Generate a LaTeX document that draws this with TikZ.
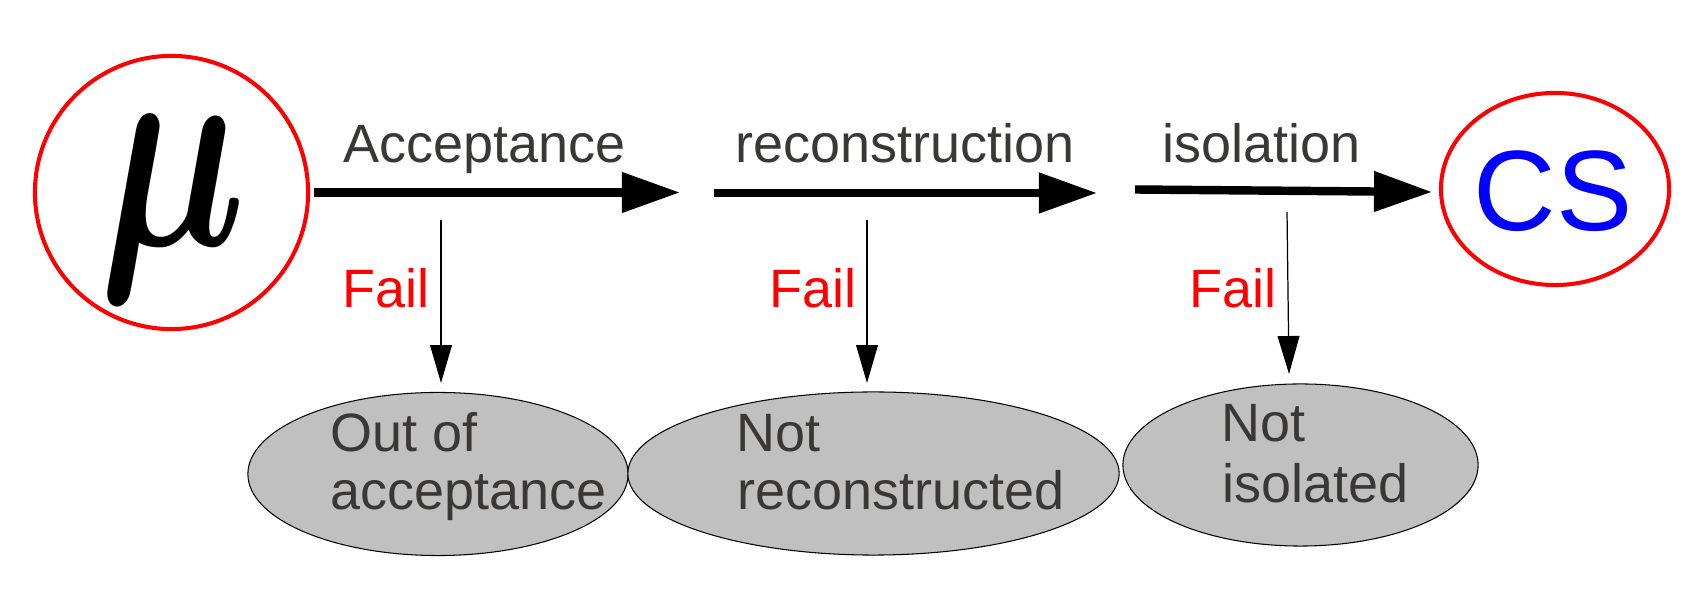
\documentclass[tikz,border=0pt]{standalone}
\usepackage{fontspec}
\setmainfont{Liberation Sans}
\usetikzlibrary{arrows.meta,shapes.geometric}
\definecolor{txtgray}{RGB}{58,56,54}
\definecolor{ellfill}{RGB}{192,192,192}
\begin{document}
\begin{tikzpicture}[x=0.01cm,y=-0.01cm,
  lbl/.style={font=\fontsize{15.35pt}{16pt}\selectfont, text=txtgray, inner sep=0pt},
  faillbl/.style={lbl, text=red},
  ring/.style={ellipse, draw=red, line width=1.15pt, inner sep=0pt},
  oval/.style={ellipse, draw=black, line width=0.3pt, fill=ellfill, inner sep=0pt},
  mainarrow/.style={line width=2.4pt, -{Triangle[length=16.5pt,width=11pt]}},
  failarrow/.style={line width=0.35pt, -{Triangle[length=10.8pt,width=6.2pt]}}
]
\useasboundingbox (0,0) rectangle (1704,592);

% end nodes
\node[ring, minimum width=2.73cm, minimum height=2.73cm] (mu) at (171.5,192.5) {};
\node[inner sep=0pt] (mulbl) at (172.5,209) {\scalebox{5.9}[8.3]{\boldmath$\mu$}};
\node[ring, minimum width=2.28cm, minimum height=1.92cm] (cs) at (1555,189) {};
\node[inner sep=0pt, text=blue, font=\fontsize{32.5pt}{33pt}\selectfont] (cslbl) at (1553,191) {CS};

% failure ovals
\node[oval, minimum width=3.80cm, minimum height=1.63cm] (e1) at (438,474) {};
\node[oval, minimum width=4.91cm, minimum height=1.63cm] (e2) at (873.5,473.5) {};
\node[oval, minimum width=3.55cm, minimum height=1.62cm] (e3) at (1300.5,465) {};

\node[lbl, anchor=base west] (e1a) at (329.5,452) {Out of};
\node[lbl, anchor=base west] (e1b) at (330,510) {acceptance};
\node[lbl, anchor=base west] (e2a) at (736,452) {Not};
\node[lbl, anchor=base west] (e2b) at (736.5,510) {reconstructed};
\node[lbl, anchor=base west] (e3a) at (1221,442) {Not};
\node[lbl, anchor=base west] (e3b) at (1221.5,503) {isolated};

% step labels
\node[lbl, anchor=base] (l1) at (484.5,163) {Acceptance};
\node[lbl, anchor=base] (l2) at (905,163) {reconstruction};
\node[lbl, anchor=base] (l3) at (1261.5,163) {isolation};

\node[faillbl, anchor=base west] (f1) at (342,308) {Fail};
\node[faillbl, anchor=base west] (f2) at (769,308) {Fail};
\node[faillbl, anchor=base west] (f3) at (1189,308) {Fail};

% connector end points
\coordinate (a1s) at (314,192.5);
\coordinate (a1e) at (680,192.5);
\coordinate (a2s) at (714,193);
\coordinate (a2e) at (1097,193);
\coordinate (a3s) at (1135,189.5);
\coordinate (a3e) at (1432,192);
\coordinate (d1s) at (441,220);
\coordinate (d1e) at (441,383);
\coordinate (d2s) at (867,220);
\coordinate (d2e) at (867,383);
\coordinate (d3s) at (1287,212);
\coordinate (d3e) at (1289,374);

\draw[mainarrow] (a1s) -- (a1e);
\draw[mainarrow] (a2s) -- (a2e);
\draw[mainarrow] (a3s) -- (a3e);
\draw[failarrow] (d1s) -- (d1e);
\draw[failarrow] (d2s) -- (d2e);
\draw[failarrow] (d3s) -- (d3e);
\end{tikzpicture}
\end{document}
